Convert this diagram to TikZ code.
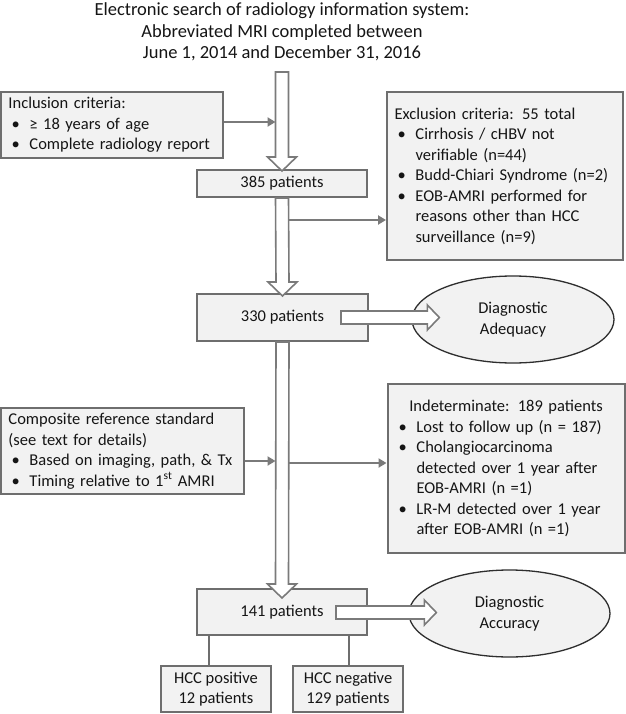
\documentclass[tikz,border=0pt]{standalone}
\usepackage{fontspec}
\setmainfont{Carlito}
\usetikzlibrary{arrows.meta,shapes.geometric,calc}
\definecolor{boxfill}{HTML}{F2F2F2}
\definecolor{boxdraw}{HTML}{6E6E6E}
\definecolor{linegray}{HTML}{7A7A7A}
\definecolor{txt}{HTML}{151515}
\definecolor{elldraw}{HTML}{2E2E2E}
\newcommand\fsz{\fontsize{16.5}{20.5}\selectfont}
\newcommand\tsz{\fontsize{18.5}{21.5}\selectfont}
\newcommand\bul{\hspace*{3pt}\makebox[18pt][l]{\textbullet}}
\newcommand\cnt{\hspace*{21pt}}
\newcommand\hollowdn[2]{%
  \draw[hollow] ($(#1)+(-6.5,0)$) -- ($(#2)+(-6.5,-14)$) -- ($(#2)+(-14.5,-14)$) -- (#2)
    -- ($(#2)+(14.5,-14)$) -- ($(#2)+(6.5,-14)$) -- ($(#1)+(6.5,0)$) -- cycle;}
\newcommand\hollowrt[2]{%
  \draw[hollow] ($(#1)+(0,-6.5)$) -- ($(#2)+(-12,-6.5)$) -- ($(#2)+(-12,-12.5)$) -- (#2)
    -- ($(#2)+(-12,12.5)$) -- ($(#2)+(-12,6.5)$) -- ($(#1)+(0,6.5)$) -- cycle;}
\tikzset{
  box/.style={draw=boxdraw, fill=boxfill, line width=2pt, text=txt, font=\fsz, inner sep=0pt},
  listbox/.style={box, align=left, inner xsep=7.5pt},
  oval/.style={ellipse, draw=elldraw, fill=boxfill, line width=1.3pt, text=txt, font=\fsz,
    align=center, inner sep=0pt},
  hollow/.style={draw=linegray, fill=white, line width=1.6pt, line join=miter},
  thinarrow/.style={draw=linegray, line width=2.5pt, -{Triangle[length=8pt,width=9pt]}},
  plainline/.style={draw=boxdraw, line width=2pt},
}
\begin{document}
\begin{tikzpicture}[x=1pt,y=-1pt]
\useasboundingbox[fill=white] (0,0) rectangle (625,714);

\node[text=txt, font=\tsz, align=center, inner sep=0pt] (title) at (282,32)
  {Electronic search of radiology information system:\\Abbreviated MRI completed between\\June 1, 2014 and December 31, 2016};
\coordinate (top) at (282,72);
\coordinate (shaftL) at (275.5,0);

\node[listbox, minimum width=222pt, minimum height=66pt, text width=207pt] (incl) at (112,125)
  {Inclusion criteria:\\\bul ≥ 18 years of age\\\bul Complete radiology report};

\node[box, minimum width=170pt, minimum height=27pt] (n385) at (282,183.5) {385 patients};

\node[listbox, minimum width=236pt, minimum height=168pt, text width=221pt] (excl) at (505,176)
  {Exclusion criteria: 55 total\\\bul Cirrhosis / cHBV not\\\cnt verifiable (n=44)\\\bul Budd-Chiari Syndrome (n=2)\\\bul EOB-AMRI performed for\\\cnt reasons other than HCC\\\cnt surveillance (n=9)};

\node[box, minimum width=171pt, minimum height=47pt] (n330) at (282.5,317.5) {330 patients};
\node[oval, minimum width=202pt, minimum height=87pt] (adeq) at (513,319.5) {Diagnostic\\Adequacy};

\node[listbox, minimum width=243pt, minimum height=86pt, text width=228pt] (comp) at (122.5,451)
  {Composite reference standard\\(see text for details)\\\bul Based on imaging, path, \& Tx\\\bul Timing relative to 1\textsuperscript{st} AMRI};

\node[listbox, minimum width=236pt, minimum height=169pt, text width=221pt, inner xsep=8pt] (indet) at (506,468.5)
  {\makebox[221pt][c]{Indeterminate: 189 patients}\\\bul Lost to follow up (n = 187)\\\bul Cholangiocarcinoma\\\cnt detected over 1 year after\\\cnt EOB-AMRI (n =1)\\\bul LR-M detected over 1 year\\\cnt after EOB-AMRI (n =1)};

\node[box, minimum width=170pt, minimum height=46pt] (n141) at (282,612) {141 patients};
\node[oval, minimum width=201pt, minimum height=87pt] (acc) at (509.5,613.5) {Diagnostic\\Accuracy};

\node[box, align=center, minimum width=110pt, minimum height=46pt] (hccp) at (216,689) {HCC positive\\12 patients};
\node[box, align=center, minimum width=110pt, minimum height=46pt] (hccn) at (348,689) {HCC negative\\129 patients};

% thin arrows
\path (incl.east) ++(0,-3) coordinate (ia);
\path (n385.south) ++(7,22) coordinate (ea);
\path (comp.east) ++(0,10) coordinate (ca);
\path (n330.south) ++(6,121) coordinate (da);
\draw[thinarrow] (ia) -- (ia -| shaftL);
\draw[thinarrow] (ea) -- (ea -| excl.west);
\draw[thinarrow] (ca) -- (ca -| shaftL);
\draw[thinarrow] (da) -- (da -| indet.west);

% lines to HCC boxes
\path (hccp.north) ++(-7,0) coordinate (hp);
\path (hccn.north) ++(1,0) coordinate (hn);
\draw[plainline] (hp) -- (hp |- n141.south);
\draw[plainline] (hn) -- (hn |- n141.south);

% hollow arrows
\hollowdn{top}{$(n385.north)+(0,2)$}
\hollowdn{n385.south}{$(n330.north)+(0,3)$}
\hollowdn{n330.south}{$(n141.north)+(0,10)$}
\hollowrt{$(n330.east)+(-28,0)$}{$(adeq.west)+(28,-2)$}
\hollowrt{$(n141.east)+(-32,0.5)$}{$(acc.west)+(28,-1)$}
\end{tikzpicture}
\end{document}
